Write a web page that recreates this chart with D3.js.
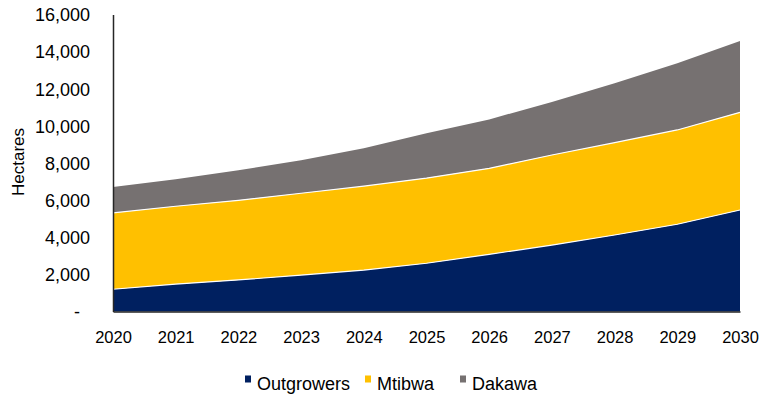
<!DOCTYPE html>
<html>
<head>
<meta charset="utf-8">
<script src="https://cdn.jsdelivr.net/npm/d3@7"></script>
<style>
  body { margin: 0; background: #fff; }
  text { font-family: "Liberation Sans", Arial, sans-serif; fill: #000; }
</style>
</head>
<body>
<div id="chart"></div>
<script>
// data
var years = [2020, 2021, 2022, 2023, 2024, 2025, 2026, 2027, 2028, 2029, 2030];
var outgrowers = [1200, 1480, 1700, 1960, 2230, 2600, 3080, 3580, 4120, 4700, 5470];
var mtibwa = [4110, 4190, 4290, 4410, 4520, 4590, 4635, 4850, 4975, 5080, 5260];
var dakawa = [1400, 1450, 1620, 1780, 2040, 2410, 2635, 2860, 3195, 3590, 3845];
var seriesNames = ['Outgrowers', 'Mtibwa', 'Dakawa'];
var yTicks = [0, 2000, 4000, 6000, 8000, 10000, 12000, 14000, 16000];

var colors = { Outgrowers: '#002060', Mtibwa: '#FFC000', Dakawa: '#767171' };

var width = 762, height = 397;
var svg = d3.select('#chart').append('svg')
	.attr('width', width)
	.attr('height', height);

//build rows for the stack
var rows = years.map(function(y, i) {
	return { year: y, Outgrowers: outgrowers[i], Mtibwa: mtibwa[i], Dakawa: dakawa[i] };
});
var stacked = d3.stack().keys(seriesNames)(rows);

var x = d3.scalePoint().domain(years).range([113, 740]);
var y = d3.scaleLinear().domain([0, 16000]).range([311.5, 14.5]);

//areas
var area = d3.area()
	.x(function(d) { return x(d.data.year); })
	.y0(function(d) { return y(d[0]); })
	.y1(function(d) { return y(d[1]); });

svg.append('g').selectAll('path')
	.data(stacked)
	.enter()
	.append('path')
	.attr('d', area)
	.attr('fill', function(d) { return colors[d.key]; });

//thin white line on top of the lower two layers
var topLine = d3.line()
	.x(function(d) { return x(d.data.year); })
	.y(function(d) { return y(d[1]); });
svg.append('g').selectAll('path')
	.data(stacked.slice(0, 2))
	.enter()
	.append('path')
	.attr('d', topLine)
	.attr('fill', 'none')
	.attr('stroke', '#fff')
	.attr('stroke-width', 1.2);

//Y axis
var yAxis = svg.append('g')
	.attr('transform', 'translate(113,0)')
	.call(d3.axisLeft(y).tickValues(yTicks).tickSize(0).tickPadding(23)
		.tickFormat(function(d) { return d === 0 ? '-' : d3.format(',')(d); }));
yAxis.select('.domain').attr('stroke', '#262626').attr('stroke-width', 1.5);
yAxis.selectAll('text').style('font-size', '18px').attr('dy', '0.35em');
yAxis.selectAll('.tick').filter(function(d) { return d === 0; }).select('text').attr('dx', '-10');

//X axis
var xAxis = svg.append('g')
	.attr('transform', 'translate(0,311.5)')
	.call(d3.axisBottom(x).tickSize(0).tickPadding(20));
xAxis.select('.domain').attr('stroke', '#262626').attr('stroke-width', 1.5);
xAxis.selectAll('text').style('font-size', '16.5px');

//Y axis title
svg.append('text')
	.attr('transform', 'translate(24,162) rotate(-90)')
	.attr('text-anchor', 'middle')
	.style('font-size', '17px')
	.text('Hectares');

//legend
var legendX = [245, 365, 460];
var legend = svg.append('g').selectAll('g')
	.data(seriesNames)
	.enter()
	.append('g')
	.attr('transform', function(d, i) { return 'translate(' + legendX[i] + ',0)'; });
legend.append('rect')
	.attr('x', 0).attr('y', 375.5)
	.attr('width', 6).attr('height', 7)
	.attr('fill', function(d) { return colors[d]; });
legend.append('text')
	.attr('x', 12).attr('y', 389.5)
	.style('font-size', '18px')
	.text(function(d) { return d; });
</script>
</body>
</html>
